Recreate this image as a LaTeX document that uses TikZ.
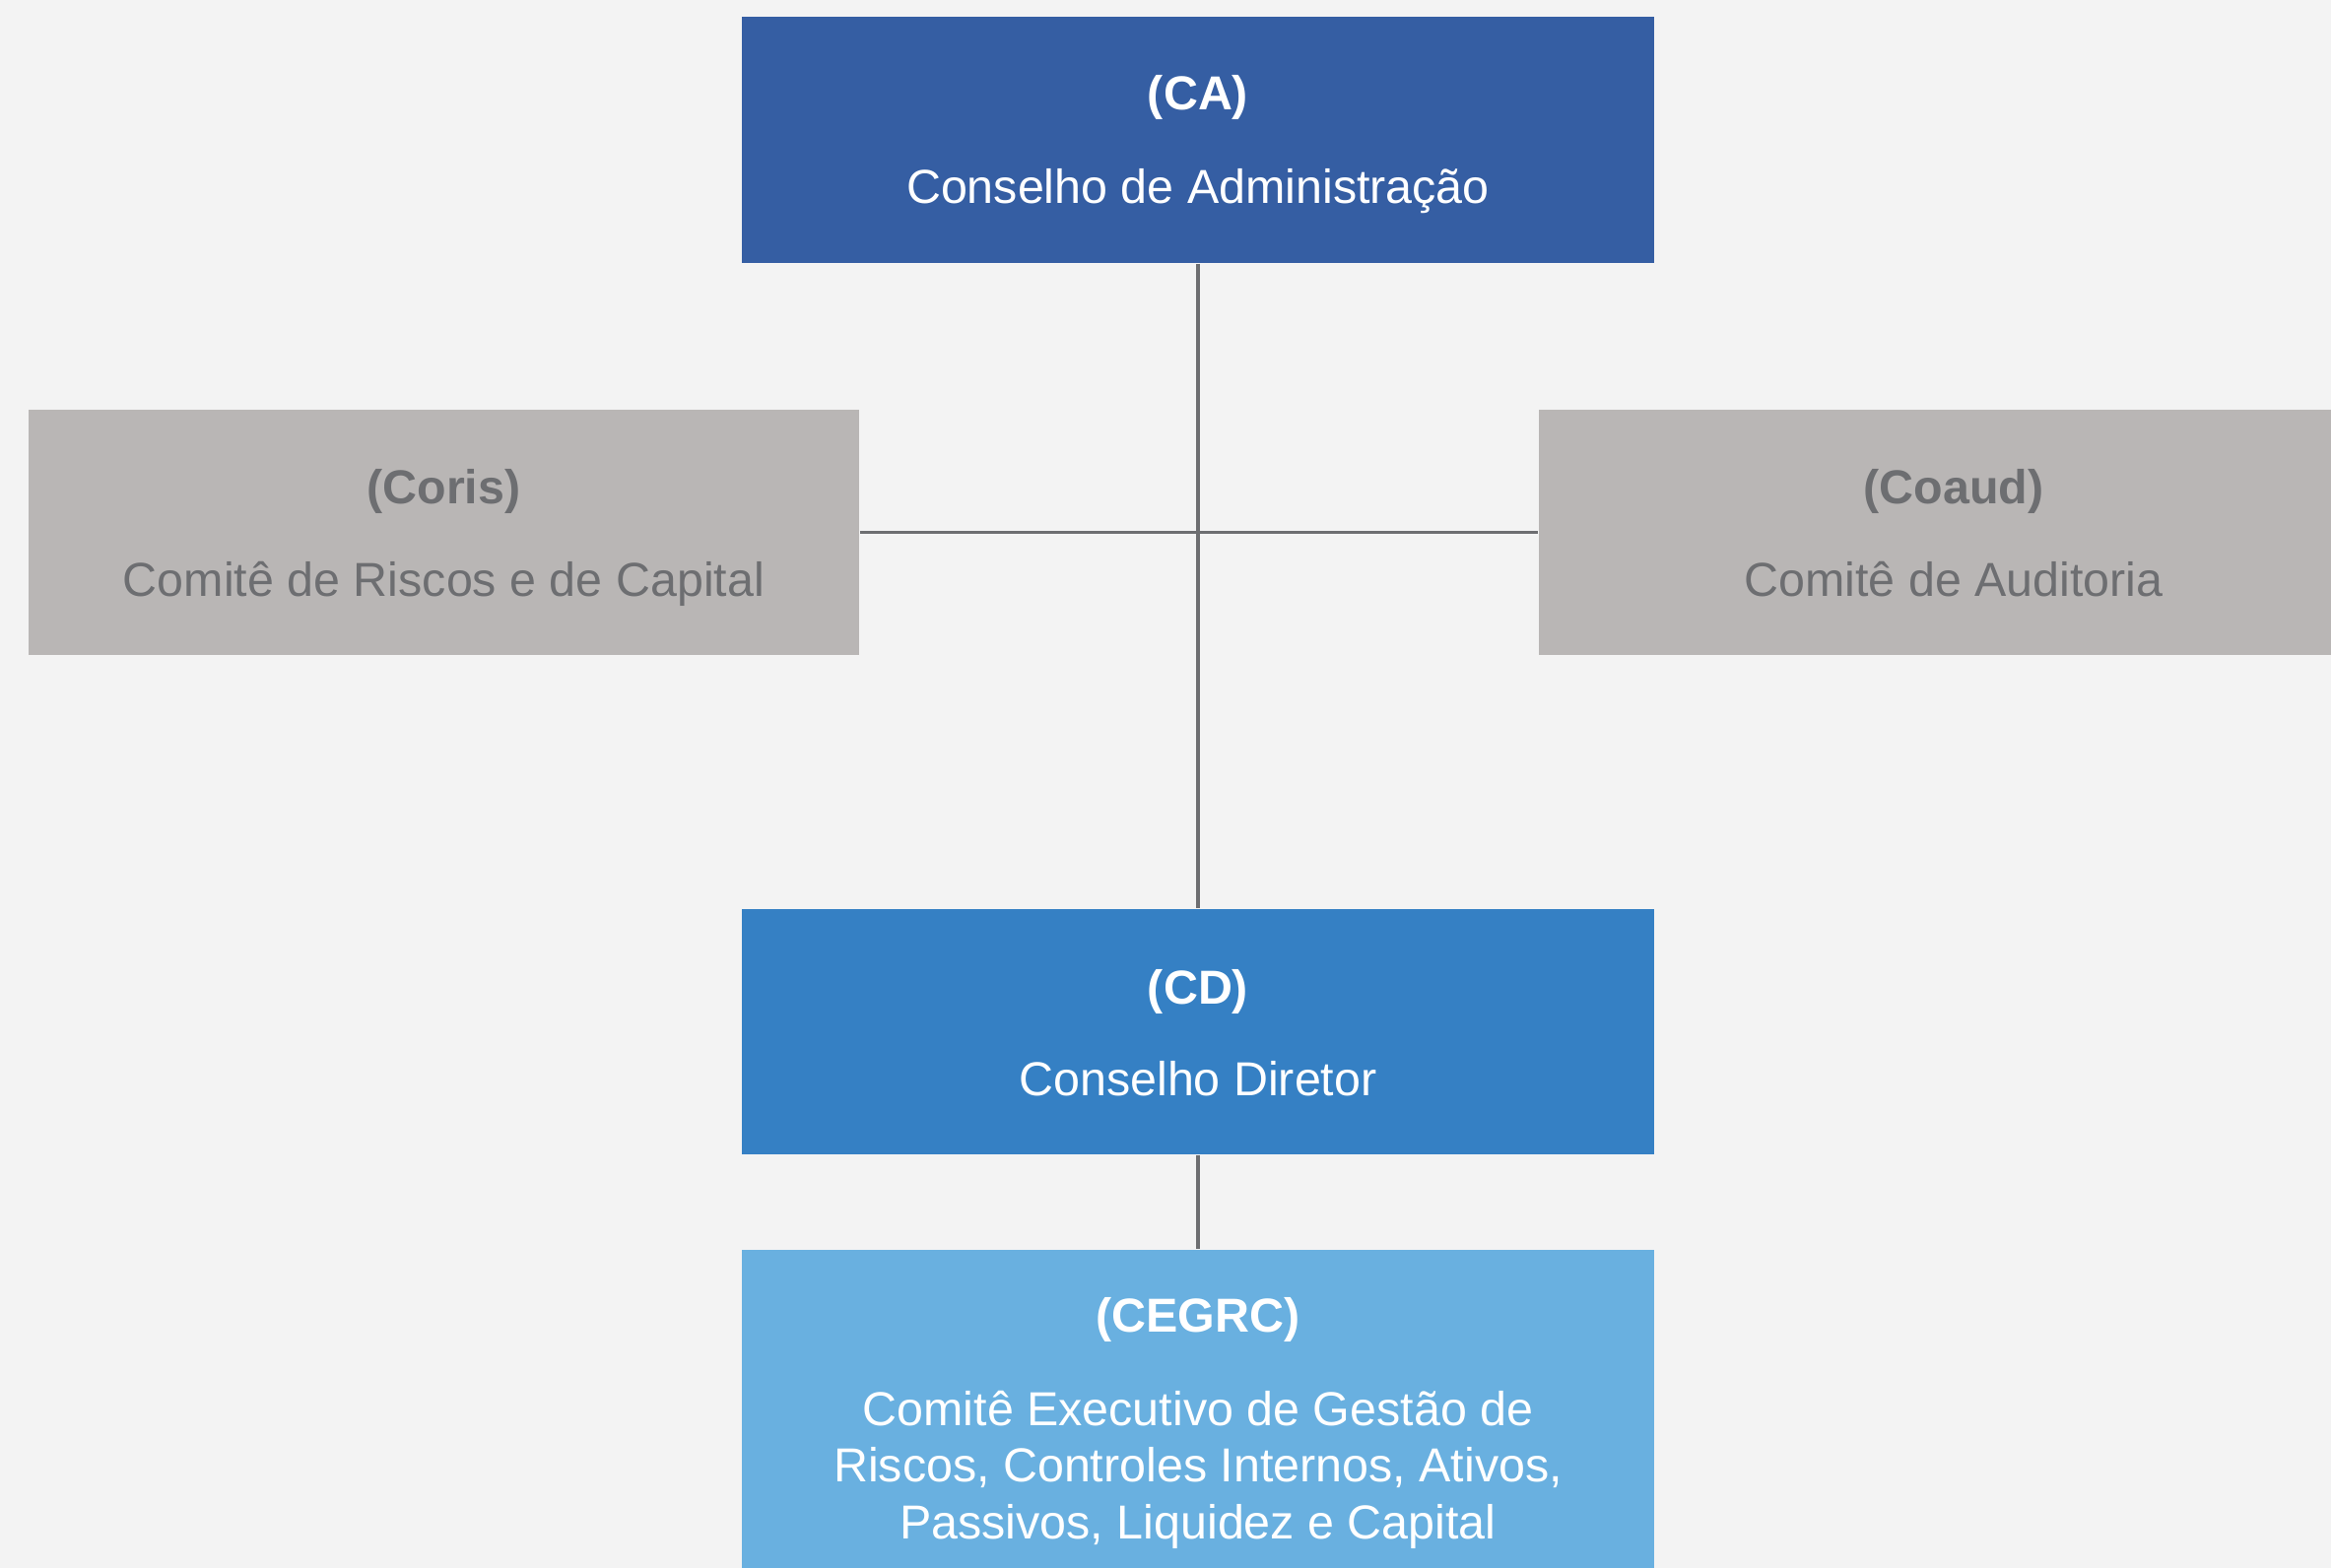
\documentclass[tikz,border=0pt]{standalone}
\usepackage{fontspec}
\setmainfont{Liberation Sans}
\definecolor{bgc}{RGB}{243,243,243}
\definecolor{cadark}{RGB}{53,94,163}
\definecolor{cdmid}{RGB}{53,128,196}
\definecolor{celight}{RGB}{105,176,224}
\definecolor{graybox}{RGB}{185,182,181}
\definecolor{graytxt}{RGB}{109,110,113}
\tikzset{
  box/.style={rectangle, inner sep=0pt},
  txt/.style={inner sep=0pt, anchor=base, align=center, font=\fontsize{12.1}{14.4}\selectfont},
  wtxt/.style={txt, text=white},
  gtxt/.style={txt, text=graytxt},
  link/.style={draw=graytxt, line width=0.95pt}
}
\begin{document}
\begin{tikzpicture}[x=0.25pt, y=-0.25pt]
\useasboundingbox (0,0) rectangle (2366,1592);
\clip (0,0) rectangle (2366,1592);
\fill[bgc] (0,0) rectangle (2366,1592);
% boxes
\node[box, fill=cadark, minimum width=231.5pt, minimum height=62.5pt] (ca) at (1216,142) {};
\node[box, fill=graybox, minimum width=210.75pt, minimum height=62.25pt] (coris) at (450.5,540.5) {};
\node[box, fill=graybox, minimum width=210.75pt, minimum height=62.25pt] (coaud) at (1983,540.5) {};
\node[box, fill=cdmid, minimum width=231.5pt, minimum height=62.25pt] (cd) at (1216,1047.5) {};
\node[box, fill=celight, minimum width=231.5pt, minimum height=85.5pt] (cegrc) at (1216,1440) {};
% texts
\node[wtxt] (ca-t) at (1216,112) {\textbf{(CA)}};
\node[wtxt] (ca-b) at (1216,207) {Conselho de Administração};
\node[gtxt] (coris-t) at (450.5,512) {\textbf{(Coris)}};
\node[gtxt] (coris-b) at (450.5,606) {Comitê de Riscos e de Capital};
\node[gtxt] (coaud-t) at (1983,512) {\textbf{(Coaud)}};
\node[gtxt] (coaud-b) at (1983,606) {Comitê de Auditoria};
\node[wtxt] (cd-t) at (1216,1019) {\textbf{(CD)}};
\node[wtxt] (cd-b) at (1216,1112) {Conselho Diretor};
\node[wtxt] (cegrc-t) at (1216,1352) {\textbf{(CEGRC)}};
\node[wtxt] (cegrc-b1) at (1216,1447) {Comitê Executivo de Gestão de};
\node[wtxt] (cegrc-b2) at (1216,1504.5) {Riscos, Controles Internos, Ativos,};
\node[wtxt] (cegrc-b3) at (1216,1562) {Passivos, Liquidez e Capital};
% connectors
\draw[link] (ca.south) -- (cd.north);
\draw[link] (coris.east) -- (coaud.west);
\draw[link] (cd.south) -- (cegrc.north);
\end{tikzpicture}
\end{document}
